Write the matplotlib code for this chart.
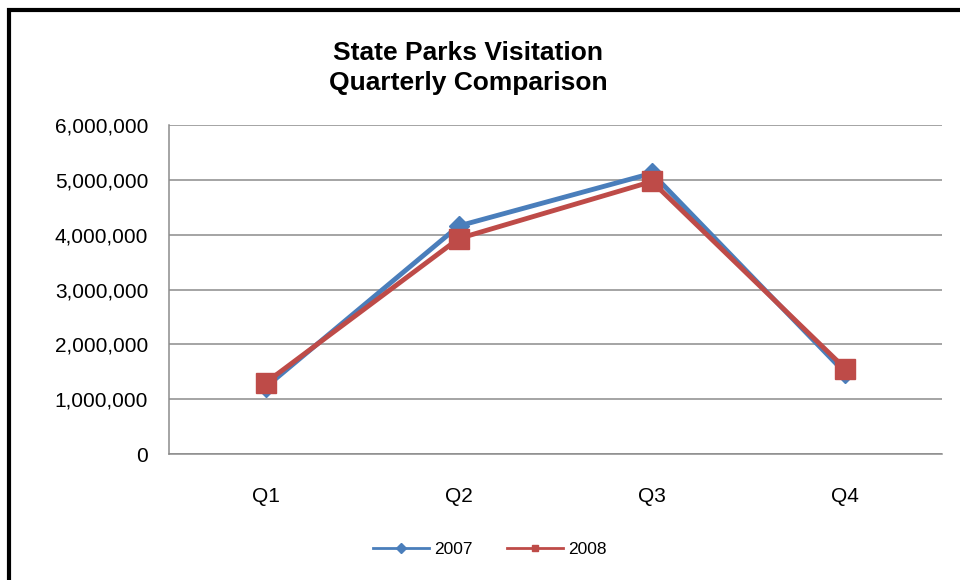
#!/usr/bin/env python3
"""State Parks visitation, quarterly comparison 2007 vs 2008."""

import matplotlib
matplotlib.use("Agg")
import matplotlib.pyplot as plt
import matplotlib.ticker as ticker
from matplotlib.patches import Rectangle

QUARTERS = ["Q1", "Q2", "Q3", "Q4"]
VISITS_2007 = [1_220_000, 4_160_000, 5_120_000, 1_480_000]
VISITS_2008 = [1_300_000, 3_930_000, 4_970_000, 1_560_000]
Y_TICKS = [0, 1_000_000, 2_000_000, 3_000_000, 4_000_000, 5_000_000, 6_000_000]

BLUE = "#4A7EBB"
RED = "#BE4B48"
GRID = "#8C8C8C"

plt.rcParams["font.family"] = ["Liberation Sans", "DejaVu Sans"]

fig = plt.figure(figsize=(9.6, 5.8), dpi=100)
fig.patch.set_facecolor("white")
ax = fig.add_axes([0.176, 0.217, 0.805, 0.5675])

x = range(len(QUARTERS))
ax.plot(x, VISITS_2007, color=BLUE, linewidth=3.5, marker="D",
        markersize=10, label="2007", zorder=3)
ax.plot(x, VISITS_2008, color=RED, linewidth=3.5, marker="s",
        markersize=15, label="2008", zorder=4)

ax.set_xlim(-0.5, len(QUARTERS) - 0.5)
ax.set_ylim(0, 6_000_000)
ax.set_yticks(Y_TICKS)
ax.yaxis.set_major_formatter(ticker.FuncFormatter(lambda v, _: f"{v:,.0f}"))
ax.set_xticks(list(x))
ax.set_xticklabels(QUARTERS)

ax.tick_params(axis="y", labelsize=15, length=0, pad=15)
ax.tick_params(axis="x", labelsize=15, length=0, pad=24)

ax.yaxis.grid(True, color=GRID, linewidth=1.1, zorder=0)
ax.set_axisbelow(True)
ax.spines[["top", "right"]].set_visible(False)
ax.spines[["left", "bottom"]].set_color(GRID)
ax.spines[["left", "bottom"]].set_linewidth(1.1)

fig.text(0.4875, 0.883, "State Parks Visitation\nQuarterly Comparison",
         ha="center", va="center", fontsize=19, fontweight="bold",
         linespacing=1.35)

leg = fig.legend(loc="center", bbox_to_anchor=(0.51, 0.052), ncol=2,
                 frameon=False, fontsize=12.5, handlelength=3.2,
                 columnspacing=2.0, handletextpad=0.3)
for h in leg.legend_handles:
    h.set_linewidth(2)
    h.set_markersize(5)

# outer border of the chart object
fig.patches.append(Rectangle((8.5 / 960, -0.1), 1.2, 1.1 - 10.5 / 580,
                             transform=fig.transFigure, fill=False,
                             edgecolor="black", linewidth=3, clip_on=False))

fig.savefig("out.png", dpi=100)
